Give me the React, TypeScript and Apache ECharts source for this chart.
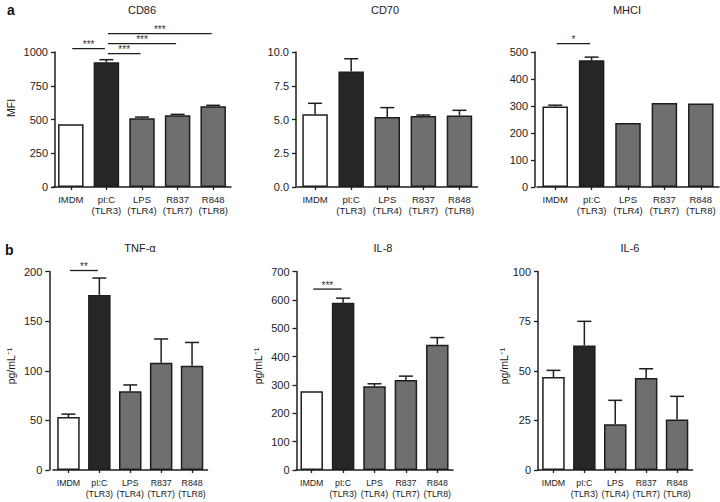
import React, { useEffect, useRef } from 'react';
import * as echarts from 'echarts';

// ---------- data ----------
const categories = ['IMDM', 'pI:C\n(TLR3)', 'LPS\n(TLR4)', 'R837\n(TLR7)', 'R848\n(TLR8)'];

const cd86Mean = [465, 925, 510, 532, 598];
const cd86Err = [0, 18, 8, 6, 7];
const cd70Mean = [5.38, 8.55, 5.19, 5.26, 5.3];
const cd70Err = [0.82, 0.95, 0.69, 0.07, 0.38];
const mhciMean = [298, 469, 237, 311, 309];
const mhciErr = [5, 12, 0, 0, 0];
const tnfMean = [53.3, 176.4, 79.3, 108, 105];
const tnfErr = [3, 17, 6.4, 24, 23.5];
const il8Mean = [278, 590, 295, 317, 442];
const il8Err = [0, 16, 9, 14, 25];
const il6Mean = [46.8, 62.7, 23.1, 46.3, 25.4];
const il6Err = [3.4, 12.2, 12, 4.7, 11.7];

// significance brackets: [fromCategory, toCategory, yValue]
const cd86Sig = [[0, 1, 1025], [1, 2, 988], [1, 3, 1062], [1, 4, 1136]];
const cd86SigLabels = ['***', '***', '***', '***'];
const mhciSig = [[0, 1, 531]];
const mhciSigLabels = ['*'];
const tnfSig = [[0, 1, 201]];
const tnfSigLabels = ['**'];
const il8Sig = [[0, 1, 638]];
const il8SigLabels = ['***'];

const barColors = ['#ffffff', '#262626', '#6f6f6f', '#6f6f6f', '#6f6f6f'];

const FONT = '"Liberation Sans", Arial, Helvetica, sans-serif';
const INK = '#1e1e1e';

const panels = [
  { title: 'CD86', mean: cd86Mean, err: cd86Err, sig: cd86Sig, sigLabels: cd86SigLabels, max: 1000, interval: 250, dec: 0,
    grid: { left: 53, top: 52, width: 178, height: 135 }, offset: -2, barWidth: 25.5, cap: 7, titleX: 142, titleY: 10, catFont: 9.5 },
  { title: 'CD70', mean: cd70Mean, err: cd70Err, sig: [], sigLabels: [], max: 10, interval: 2.5, dec: 1,
    grid: { left: 297, top: 52, width: 180.5, height: 135 }, offset: 1, barWidth: 25.5, cap: 7, titleX: 385, titleY: 10, catFont: 9.5 },
  { title: 'MHCI', mean: mhciMean, err: mhciErr, sig: mhciSig, sigLabels: mhciSigLabels, max: 500, interval: 100, dec: 0,
    grid: { left: 537, top: 52, width: 182, height: 135 }, offset: 2, barWidth: 25.5, cap: 7, titleX: 627, titleY: 10, catFont: 9.5 },
  { title: 'TNF-α', mean: tnfMean, err: tnfErr, sig: tnfSig, sigLabels: tnfSigLabels, max: 200, interval: 50, dec: 0,
    grid: { left: 53, top: 271.5, width: 154.5, height: 198.5 }, offset: 3.7, barWidth: 22.5, cap: 7, titleX: 140, titleY: 248, catFont: 8.8 },
  { title: 'IL-8', mean: il8Mean, err: il8Err, sig: il8Sig, sigLabels: il8SigLabels, max: 700, interval: 100, dec: 0,
    grid: { left: 296, top: 271.5, width: 157, height: 198.5 }, offset: -0.5, barWidth: 22.5, cap: 7, titleX: 383, titleY: 248, catFont: 8.8 },
  { title: 'IL-6', mean: il6Mean, err: il6Err, sig: [], sigLabels: [], max: 100, interval: 25, dec: 0,
    grid: { left: 538, top: 271.5, width: 154.5, height: 198.5 }, offset: 0, barWidth: 22.5, cap: 7, titleX: 630, titleY: 248, catFont: 8.8 },
];

const yNames = [
  { text: 'MFI', x: 11, y: 108 },
  { text: 'pg/mL⁻¹', x: 11, y: 366 },
  { text: 'pg/mL⁻¹', x: 258, y: 366 },
  { text: 'pg/mL⁻¹', x: 504, y: 366 },
];

function buildOption() {
  const grid: any[] = [];
  const xAxis: any[] = [];
  const yAxis: any[] = [];
  const series: any[] = [];
  const graphic: any[] = [];

  panels.forEach((p, i) => {
    grid.push({ ...p.grid, containLabel: false });
    xAxis.push({
      type: 'category', gridIndex: i, data: categories,
      axisLine: { show: true, lineStyle: { color: INK, width: 1.5 } },
      axisTick: { show: true, alignWithLabel: true, length: 3, lineStyle: { color: INK, width: 1.3 } },
      axisLabel: { interval: 0, fontSize: p.catFont, lineHeight: 11, margin: 7, color: '#222', fontFamily: FONT },
      splitLine: { show: false },
    });
    yAxis.push({
      type: 'value', gridIndex: i, min: 0, max: p.max, interval: p.interval, offset: p.offset,
      axisLine: { show: true, lineStyle: { color: INK, width: 1.5 } },
      axisTick: { show: true, length: 4, lineStyle: { color: INK, width: 1.3 } },
      axisLabel: { fontSize: 11, margin: 7, color: '#222', fontFamily: FONT,
        formatter: (v: number) => v.toFixed(p.dec) },
      splitLine: { show: false },
    });
    series.push({
      type: 'bar', xAxisIndex: i, yAxisIndex: i, barWidth: p.barWidth,
      data: p.mean.map((v, j) => ({ value: v, itemStyle: { color: barColors[j], borderColor: INK, borderWidth: 1.5 } })),
      z: 2,
    });
    const cap = p.cap;
    series.push({
      type: 'custom', xAxisIndex: i, yAxisIndex: i, clip: false, z: 3,
      data: p.mean.map((m, j) => [j, m, p.err[j]]),
      encode: { x: 0, y: 1 },
      renderItem: (params: any, api: any) => {
        const j = api.value(0);
        const m = api.value(1);
        const e = api.value(2);
        if (!e) return { type: 'group', children: [] };
        const p0 = api.coord([j, m]);
        const p1 = api.coord([j, m + e]);
        return {
          type: 'group',
          children: [
            { type: 'line', shape: { x1: p0[0], y1: p0[1], x2: p1[0], y2: p1[1] }, style: { stroke: INK, lineWidth: 1.5 } },
            { type: 'line', shape: { x1: p1[0] - cap, y1: p1[1], x2: p1[0] + cap, y2: p1[1] }, style: { stroke: INK, lineWidth: 1.5 } },
          ],
        };
      },
    });
    if (p.sig.length) {
      const labels = p.sigLabels;
      series.push({
        type: 'custom', xAxisIndex: i, yAxisIndex: i, clip: false, z: 3,
        data: p.sig,
        encode: { x: 0, y: 2 },
        renderItem: (params: any, api: any) => {
          const a = api.value(0);
          const b = api.value(1);
          const y = api.value(2);
          const pa = api.coord([a, y]);
          const pb = api.coord([b, y]);
          return {
            type: 'group',
            children: [
              { type: 'line', shape: { x1: pa[0] + 1.5, y1: pa[1], x2: pb[0] - 1.5, y2: pb[1] }, style: { stroke: INK, lineWidth: 1.3 } },
              { type: 'text', x: (pa[0] + pb[0]) / 2, y: pa[1] + 1,
                style: { text: labels[params.dataIndex], fontSize: 10, fontFamily: FONT, fill: '#333', align: 'center', verticalAlign: 'bottom' } },
            ],
          };
        },
      });
    }
    graphic.push({
      type: 'text', x: p.titleX, y: p.titleY,
      style: { text: p.title, fontSize: 11, fontFamily: FONT, fill: '#222', align: 'center', verticalAlign: 'middle' },
    });
  });

  yNames.forEach((n) => {
    graphic.push({
      type: 'text', x: n.x, y: n.y, rotation: Math.PI / 2,
      style: { text: n.text, fontSize: 10.5, fontFamily: FONT, fill: '#222', align: 'center', verticalAlign: 'middle' },
    });
  });
  graphic.push({ type: 'text', x: 7, y: 10, style: { text: 'a', fontSize: 14, fontWeight: 'bold', fontFamily: FONT, fill: '#111', align: 'left', verticalAlign: 'middle' } });
  graphic.push({ type: 'text', x: 5, y: 250, style: { text: 'b', fontSize: 14, fontWeight: 'bold', fontFamily: FONT, fill: '#111', align: 'left', verticalAlign: 'middle' } });

  return {
    animation: false,
    backgroundColor: '#ffffff',
    textStyle: { fontFamily: FONT },
    grid, xAxis, yAxis, series, graphic,
  };
}

export default function App() {
  const ref = useRef<HTMLDivElement>(null);
  useEffect(() => {
    if (!ref.current) return;
    const chart = echarts.init(ref.current, undefined, { renderer: 'svg' });
    chart.setOption(buildOption() as any);
    return () => chart.dispose();
  }, []);
  return <div ref={ref} style={{ width: 720, height: 502, position: 'absolute', left: 0, top: 0 }} />;
}
